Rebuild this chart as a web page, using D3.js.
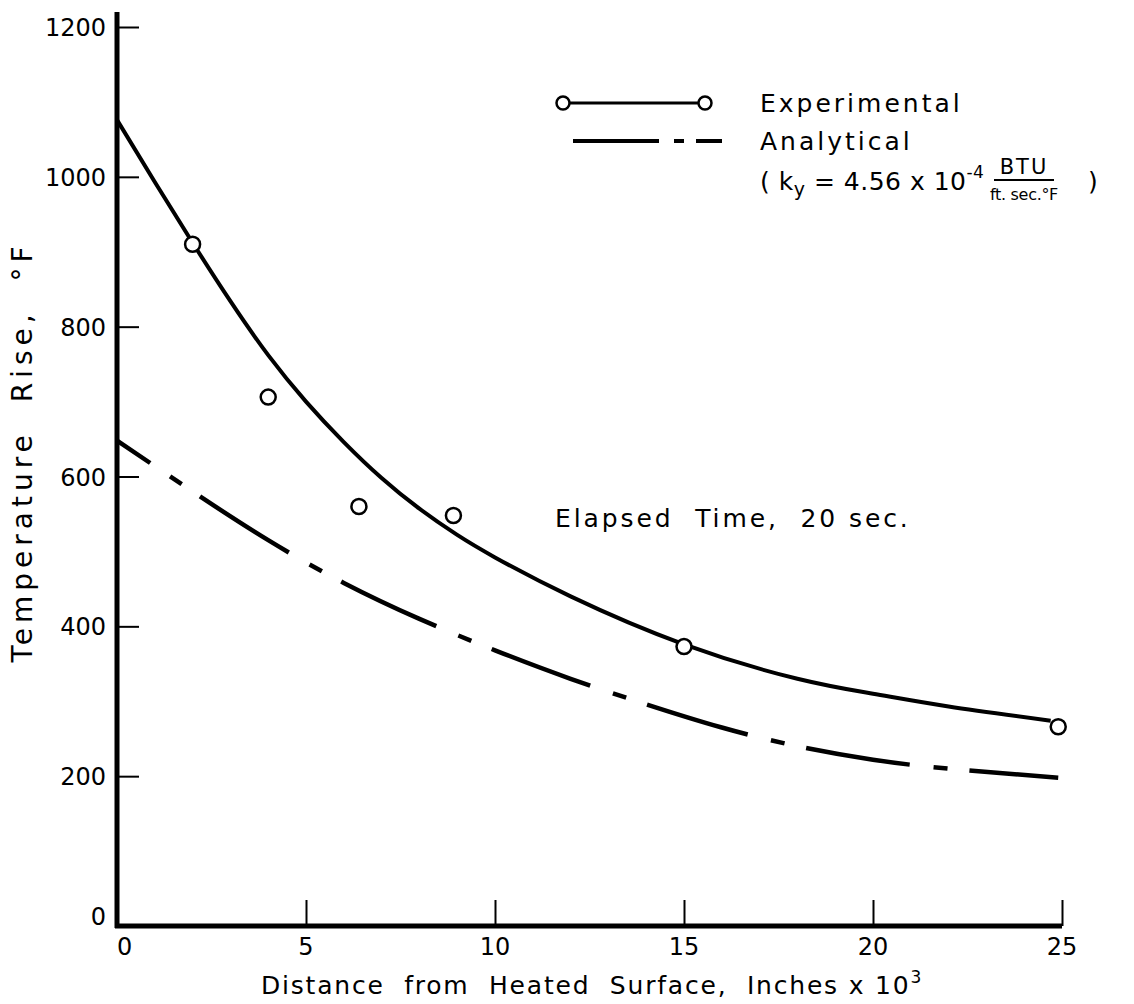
<!DOCTYPE html>
<html>
<head>
<meta charset="utf-8">
<script src="https://cdn.jsdelivr.net/npm/d3@7"></script>
<style>
  body { margin: 0; background: #fff; }
  svg { display: block; }
  text { font-family: "DejaVu Sans", sans-serif; fill: #000; white-space: pre; }
</style>
</head>
<body>
<svg id="chart" width="1134" height="1004"></svg>
<script>
// Measured temperature rise (°F) at depth (inches x 10^3)
const expX = [2, 4, 6.4, 8.9, 15, 24.9];
const expY = [910, 706, 560, 548, 373, 266];

// Faired experimental curve
const fitX = [0, 1, 2, 3, 4, 5, 6, 7, 8, 9, 10, 12, 15, 18, 20, 22, 24.7];
const fitY = [1076, 993, 912, 834, 762, 700, 646, 598, 557, 522, 492, 440, 376, 330, 310, 293, 274];

// Analytical solution
const anaX = [0, 2, 4, 6, 8, 10, 12, 14, 16, 18, 20, 22, 24.9];
const anaY = [648, 580, 515, 458, 410, 368, 330, 296, 265, 240, 222, 210, 198];

const xTicks = [0, 5, 10, 15, 20, 25];
const yTicks = [0, 200, 400, 600, 800, 1000, 1200];

const svg = d3.select("#chart");
const x = d3.scaleLinear().domain([0, 25]).range([117, 1062]);
const y = d3.scaleLinear().domain([0, 1200]).range([926, 27]);

// Axes: ticks point inward, labels outside
const yAxis = svg.append("g").attr("transform", `translate(${x(0)},0)`)
  .call(d3.axisLeft(y).tickValues(yTicks.filter(d => d > 0)).tickSize(-22).tickFormat(""));
yAxis.select(".domain").remove();
yAxis.selectAll(".tick line").attr("stroke", "#000").attr("stroke-width", 2);

const xAxis = svg.append("g").attr("transform", `translate(0,${y(0)})`)
  .call(d3.axisBottom(x).tickValues(xTicks.filter(d => d > 0)).tickSize(-26).tickFormat(""));
xAxis.select(".domain").remove();
xAxis.selectAll(".tick line").attr("stroke", "#000").attr("stroke-width", 2);

svg.append("line").attr("x1", x(0)).attr("x2", x(0)).attr("y1", 12).attr("y2", y(0) + 2)
  .attr("stroke", "#000").attr("stroke-width", 5);
svg.append("line").attr("x1", x(0) - 2).attr("x2", x(25)).attr("y1", y(0)).attr("y2", y(0))
  .attr("stroke", "#000").attr("stroke-width", 5);

svg.append("g").selectAll("text").data(yTicks).join("text")
  .attr("x", x(0) - 11).attr("y", d => y(d) + (d === 0 ? -1 : 9))
  .attr("text-anchor", "end").attr("font-size", 24).text(d => d);

svg.append("g").selectAll("text").data(xTicks).join("text")
  .attr("x", d => x(d)).attr("y", y(0) + 29)
  .attr("text-anchor", d => d === 0 ? "start" : "middle").attr("font-size", 24).text(d => d);

// Axis titles
const xt = svg.append("text").attr("x", 592).attr("y", 994).attr("text-anchor", "middle")
  .attr("font-size", 25).attr("letter-spacing", 1.8);
xt.append("tspan").text("Distance  from  Heated  Surface,  Inches x 10");
xt.append("tspan").attr("dy", -11).attr("font-size", 17).text("3");

svg.append("text").attr("transform", "translate(32,452) rotate(-90)").attr("text-anchor", "middle")
  .attr("font-size", 28).attr("letter-spacing", 5).text("Temperature  Rise,  °F");

// Curves
const line = d3.line().x(d => x(d[0])).y(d => y(d[1])).curve(d3.curveNatural);

svg.append("path").datum(d3.zip(fitX, fitY)).attr("d", line)
  .attr("fill", "none").attr("stroke", "#000").attr("stroke-width", 4);

svg.append("path").datum(d3.zip(anaX, anaY)).attr("d", line)
  .attr("fill", "none").attr("stroke", "#000").attr("stroke-width", 4.5)
  .attr("stroke-dasharray", "105,24,14,22").attr("stroke-dashoffset", 65);

svg.append("g").selectAll("circle").data(d3.zip(expX, expY)).join("circle")
  .attr("cx", d => x(d[0])).attr("cy", d => y(d[1])).attr("r", 7.5)
  .attr("fill", "#fff").attr("stroke", "#000").attr("stroke-width", 2.5);

// Legend
const lg = svg.append("g");
lg.append("line").attr("x1", 563).attr("x2", 705).attr("y1", 103).attr("y2", 103)
  .attr("stroke", "#000").attr("stroke-width", 3);
lg.selectAll("circle").data([563, 705]).join("circle")
  .attr("cx", d => d).attr("cy", 103).attr("r", 6.5)
  .attr("fill", "#fff").attr("stroke", "#000").attr("stroke-width", 2.5);
lg.append("text").attr("x", 760).attr("y", 112).attr("font-size", 25).attr("letter-spacing", 3).text("Experimental");

lg.append("line").attr("x1", 573).attr("x2", 722).attr("y1", 141).attr("y2", 141)
  .attr("stroke", "#000").attr("stroke-width", 4).attr("stroke-dasharray", "86,15,10,12,26");
lg.append("text").attr("x", 760).attr("y", 150).attr("font-size", 25).attr("letter-spacing", 3).text("Analytical");

const eq = lg.append("text").attr("x", 760).attr("y", 190).attr("font-size", 25).attr("letter-spacing", 0.5);
eq.append("tspan").text("( k");
eq.append("tspan").attr("dy", 6).attr("font-size", 19).text("y");
eq.append("tspan").attr("dy", -6).text(" = 4.56 x 10");
eq.append("tspan").attr("dy", -12).attr("font-size", 17).text("-4");
lg.append("text").attr("x", 1024).attr("y", 174).attr("text-anchor", "middle").attr("font-size", 21).attr("letter-spacing", 2).text("BTU");
lg.append("line").attr("x1", 994).attr("x2", 1054).attr("y1", 180).attr("y2", 180).attr("stroke", "#000").attr("stroke-width", 2);
lg.append("text").attr("x", 1024).attr("y", 200).attr("text-anchor", "middle").attr("font-size", 16).attr("letter-spacing", -0.3).text("ft. sec.°F");
lg.append("text").attr("x", 1088).attr("y", 190).attr("font-size", 25).text(")");

svg.append("text").attr("x", 555).attr("y", 527).attr("font-size", 25).attr("letter-spacing", 2.9)
  .text("Elapsed  Time,  20 sec.");
</script>
</body>
</html>
